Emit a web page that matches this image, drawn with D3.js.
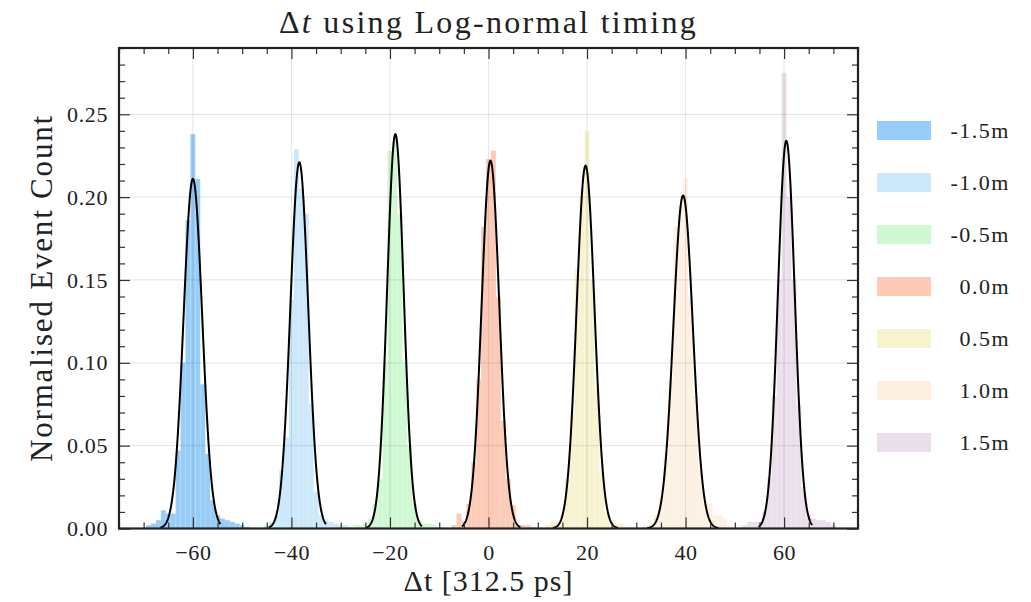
<!DOCTYPE html>
<html>
<head>
<meta charset="utf-8">
<script src="https://cdn.jsdelivr.net/npm/d3@7"></script>
<style>
body { margin: 0; background: white; }
text { font-family: "Liberation Serif", "DejaVu Serif", serif; fill: #222; }
</style>
</head>
<body>
<div id="drawing"></div>
<script>
"use strict"

/**** DATA ****/

let seriesLabels = ["-1.5m", "-1.0m", "-0.5m", "0.0m", "0.5m", "1.0m", "1.5m"]

// first bin centre of each histogram (bins are 1 unit wide)
let binStart = [-69, -45, -28, -7, 12, 32, 52]

// normalised counts per bin
let binValues = [
[0.002,0.003,0.005,0.011,0.009,0.009,0.047,0.100,0.186,0.238,0.211,0.087,0.045,0.017,0.008,0.006,0.005,0.004,0.003,0.002,0.001],
[0.002,0.004,0.008,0.035,0.055,0.138,0.229,0.205,0.190,0.075,0.022,0.008,0.005,0.004,0.003,0.002,0.002],
[0.001,0.002,0.002,0.003,0.006,0.015,0.030,0.100,0.228,0.235,0.190,0.100,0.050,0.015,0.005,0.003,0.003,0.002,0.001],
[0.002,0.009,0.004,0.015,0.040,0.090,0.182,0.223,0.228,0.140,0.065,0.030,0.014,0.002,0.002,0.002,0.001],
[0.002,0.004,0.004,0.008,0.030,0.070,0.157,0.205,0.240,0.150,0.085,0.035,0.010,0.005,0.003,0.003,0.001],
[0.002,0.003,0.008,0.018,0.045,0.090,0.182,0.195,0.211,0.140,0.080,0.035,0.015,0.015,0.008,0.008,0.006,0.002],
[0.002,0.004,0.004,0.004,0.010,0.030,0.080,0.150,0.275,0.200,0.150,0.075,0.025,0.008,0.006,0.005,0.005,0.004,0.002]
]

// gaussian fits: centre, peak height, sigma, drawn range
let fitMu = [-60.0, -38.4, -18.9, 0.4, 19.7, 39.5, 60.45]
let fitPeak = [0.211, 0.221, 0.238, 0.222, 0.219, 0.201, 0.234]
let fitSigma = [1.89, 1.81, 1.68, 1.80, 1.82, 1.98, 1.71]
let fitFrom = [-66.6, -44.6, -25.0, -5.4, 13.1, 32.2, 54.8]
let fitTo = [-54.4, -33.0, -13.5, 6.5, 26.3, 46.7, 65.7]

let xTicks = [-60, -40, -20, 0, 20, 40, 60]
let yTicks = [0.00, 0.05, 0.10, 0.15, 0.20, 0.25]


/**** CONFIGURATION ****/

let svgWidth = 1031
let svgHeight = 602

let plotLeft = 119
let plotRight = 858
let plotTop = 48
let plotBottom = 528.5

let colors = ["#98cdf8", "#cde8fb", "#cff9d2", "#fccbb8", "#f7f3d0", "#fdf1e4", "#ebdfec"]


/**** CANVAS SETUP ****/

let svg = d3.select("#drawing")
.append("svg")
.attr("width", svgWidth)
.attr("height", svgHeight)


/**** SCALES ****/

let xScale = d3.scaleLinear()
.domain([-75, 75])
.range([plotLeft, plotRight])

let yScale = d3.scaleLinear()
.domain([0, 0.29])
.range([plotBottom, plotTop])


/**** HISTOGRAMS ****/

seriesLabels.forEach(function(label, i){

let bins = binValues[i].map(function(v, j){
    return {x: binStart[i] + j, v: v}
})

svg.append("g")
.selectAll("rect")
.data(bins)
.join("rect")
.attr("x", d => xScale(d.x - 0.5))
.attr("width", d => xScale(d.x + 0.5) - xScale(d.x - 0.5))
.attr("y", d => yScale(d.v))
.attr("height", d => yScale(0) - yScale(d.v))
.attr("fill", colors[i])

})


/**** GRID ****/

svg.append("g")
.selectAll("line")
.data(xTicks)
.join("line")
.attr("x1", d => xScale(d))
.attr("x2", d => xScale(d))
.attr("y1", plotTop)
.attr("y2", plotBottom)
.attr("stroke", "rgba(0,0,0,0.09)")
.attr("stroke-width", 1.2)

svg.append("g")
.selectAll("line")
.data(yTicks.slice(1))
.join("line")
.attr("x1", plotLeft)
.attr("x2", plotRight)
.attr("y1", d => yScale(d))
.attr("y2", d => yScale(d))
.attr("stroke", "rgba(0,0,0,0.09)")
.attr("stroke-width", 1.2)


/**** FIT CURVES ****/

let line = d3.line()
.x(d => xScale(d[0]))
.y(d => yScale(d[1]))

seriesLabels.forEach(function(label, i){

let pts = d3.range(0, 201).map(function(k){
    let x = fitFrom[i] + (fitTo[i] - fitFrom[i]) * k / 200
    let z = (x - fitMu[i]) / fitSigma[i]
    return [x, fitPeak[i] * Math.exp(-0.5 * z * z)]
})

svg.append("path")
.datum(pts)
.attr("d", line)
.attr("fill", "none")
.attr("stroke", "black")
.attr("stroke-width", 2)

})


/**** AXES ****/

let minorX = d3.range(-75, 76, 5).filter(v => !xTicks.includes(v))
let minorY = d3.range(0, 30).map(v => v / 100).filter(v => Math.round(v * 100) % 5 != 0)

function styleAxis(g){
g.select(".domain").remove()
g.selectAll(".tick line").attr("stroke", "#333").attr("stroke-width", 1.2)
g.selectAll(".tick text")
    .style("font-family", "Liberation Serif")
    .style("font-size", "22px")
    .style("letter-spacing", "0.6px")
    .attr("fill", "#222")
}

svg.append("g")
.attr("transform", "translate(0," + plotBottom + ")")
.call(d3.axisBottom(xScale).tickValues(xTicks).tickSize(-11).tickPadding(16)
    .tickFormat(d => d < 0 ? "\u2212" + Math.abs(d) : String(d)))
.call(styleAxis)

svg.append("g")
.attr("transform", "translate(0," + plotBottom + ")")
.call(d3.axisBottom(xScale).tickValues(minorX).tickSize(-6).tickFormat(""))
.call(styleAxis)

svg.append("g")
.attr("transform", "translate(0," + plotTop + ")")
.call(d3.axisTop(xScale).tickValues(xTicks).tickSize(-11).tickFormat(""))
.call(styleAxis)

svg.append("g")
.attr("transform", "translate(0," + plotTop + ")")
.call(d3.axisTop(xScale).tickValues(minorX).tickSize(-6).tickFormat(""))
.call(styleAxis)

svg.append("g")
.attr("transform", "translate(" + plotLeft + ",0)")
.call(d3.axisLeft(yScale).tickValues(yTicks).tickSize(-11).tickPadding(11).tickFormat(d3.format(".2f")))
.call(styleAxis)

svg.append("g")
.attr("transform", "translate(" + plotLeft + ",0)")
.call(d3.axisLeft(yScale).tickValues(minorY).tickSize(-6).tickFormat(""))
.call(styleAxis)

svg.append("g")
.attr("transform", "translate(" + plotRight + ",0)")
.call(d3.axisRight(yScale).tickValues(yTicks).tickSize(-11).tickFormat(""))
.call(styleAxis)

svg.append("g")
.attr("transform", "translate(" + plotRight + ",0)")
.call(d3.axisRight(yScale).tickValues(minorY).tickSize(-6).tickFormat(""))
.call(styleAxis)

// frame
svg.append("rect")
.attr("x", plotLeft)
.attr("y", plotTop)
.attr("width", plotRight - plotLeft)
.attr("height", plotBottom - plotTop)
.attr("fill", "none")
.attr("stroke", "#222")
.attr("stroke-width", 2.2)


/**** LABELS ****/

let title = svg.append("text")
.attr("x", (plotLeft + plotRight) / 2)
.attr("y", 33)
.style("text-anchor", "middle")
.style("font-size", "32px")
.style("letter-spacing", "2.3px")

title.append("tspan").text("\u0394")
title.append("tspan").style("font-style", "italic").text("t")
title.append("tspan").text(" using Log-normal timing")

svg.append("text")
.attr("x", (plotLeft + plotRight) / 2)
.attr("y", 591)
.style("text-anchor", "middle")
.style("font-size", "30px")
.style("letter-spacing", "1px")
.text("\u0394t [312.5 ps]")

svg.append("text")
.attr("transform", "rotate(-90)")
.attr("x", -288)
.attr("y", 52)
.style("text-anchor", "middle")
.style("font-size", "31px")
.style("letter-spacing", "1.8px")
.text("Normalised Event Count")


/**** LEGEND ****/

let legend = svg.append("g")

legend.selectAll("rect")
.data(seriesLabels)
.join("rect")
.attr("x", 877)
.attr("y", (d, i) => 121 + i * 52)
.attr("width", 54)
.attr("height", 19)
.attr("fill", (d, i) => colors[i])

legend.selectAll("text")
.data(seriesLabels)
.join("text")
.attr("x", 1010)
.attr("y", (d, i) => 138 + i * 52)
.style("text-anchor", "end")
.style("font-size", "22px")
.style("letter-spacing", "1.5px")
.text(d => d)
</script>
</body>
</html>
